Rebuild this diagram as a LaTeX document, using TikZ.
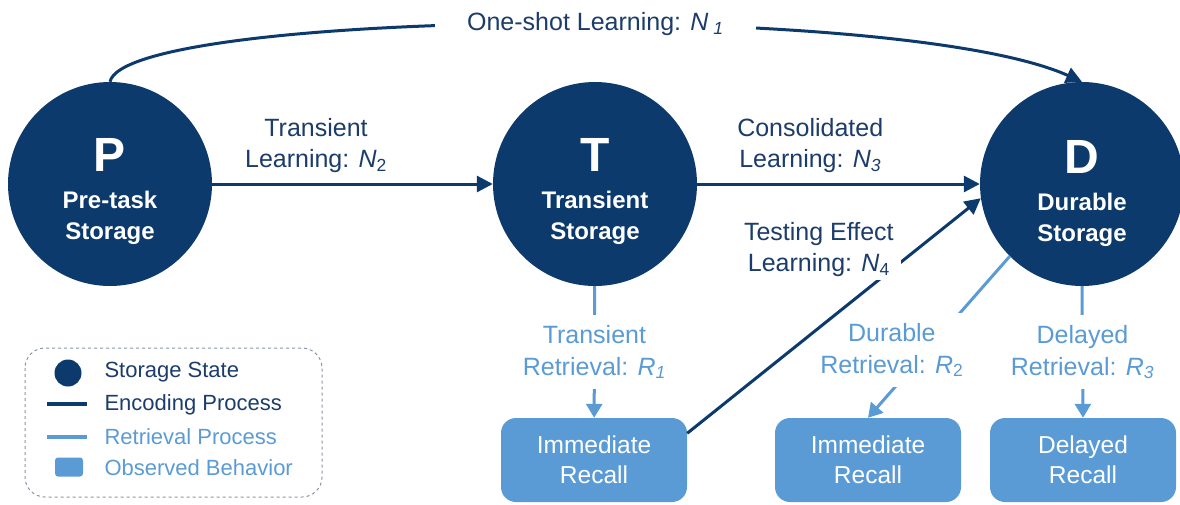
\documentclass[tikz,border=0pt]{standalone}
\usepackage{fontspec}
\setmainfont{Liberation Sans}
\usetikzlibrary{arrows.meta,positioning,calc}

\definecolor{navy}{HTML}{0C3A6C}
\definecolor{sky}{HTML}{5B9BD5}
\definecolor{inknavy}{HTML}{1C3C6B}
\definecolor{keyframe}{HTML}{8A94A6}

\newcommand{\varsub}[2]{\textit{#1}\textsubscript{#2}}

\tikzset{
  state/.style={circle, fill=navy, minimum size=204pt, inner sep=0pt},
  statename/.style={text=white, align=center, font=\fontsize{24}{31}\selectfont\bfseries},
  behavior/.style={rounded corners=15pt, fill=sky, text=white, minimum width=186pt,
    minimum height=84pt, align=center, font=\fontsize{24.5}{30}\selectfont},
  encode/.style={draw=navy, line width=3pt, -{Triangle[length=16pt,width=16pt]}},
  retrieve/.style={draw=sky, line width=3pt, -{Triangle[length=14pt,width=16pt]}},
  enclabel/.style={text=inknavy, align=center, font=\fontsize{25}{31}\selectfont},
  retlabel/.style={text=sky, align=center, fill=white, inner xsep=2pt, inner ysep=10pt,
    font=\fontsize{25}{32}\selectfont},
  keytext/.style={anchor=west, font=\fontsize{22}{26}\selectfont}
}

\begin{document}
\begin{tikzpicture}[x=1pt,y=-1pt]
\useasboundingbox (0,0) rectangle (1180,504);

% storage states
\node[state] (P) at (110,184) {};
\node[state] (T) at (595,184) {};
\node[state] (D) at (1082,184) {};
\node[statename] (Pname) at ([yshift=-8pt]P.center) {{\fontsize{48}{48}\selectfont P}\\[6pt]Pre-task\\Storage};
\node[statename] (Tname) at ([yshift=-8pt]T.center) {{\fontsize{48}{48}\selectfont T}\\[6pt]Transient\\Storage};
\node[statename] (Dname) at ([yshift=-10pt]D.center) {{\fontsize{48}{48}\selectfont D}\\[6pt]Durable\\Storage};

% observed behavior
\node[behavior] (recallT) at (594,460) {Immediate\\Recall};
\node[behavior] (recallD) at (868,460) {Immediate\\Recall};
\node[behavior] (recallL) at (1083,460) {Delayed\\Recall};

% retrieval
\draw[retrieve] (T) -- (recallT)
  node[pos=0.5, retlabel] (Rone) {Transient\\Retrieval: \varsub{R}{\textit{1}}};
\draw[retrieve] (D.225) -- (recallD.north)
  node[pos=0.5, retlabel, xshift=-47pt, yshift=-13pt] (Rtwo) {Durable\\Retrieval: \varsub{R}{2}};
\draw[retrieve] (D.south) -- (recallL.north)
  node[pos=0.5, retlabel] (Rthree) {Delayed\\Retrieval: \varsub{R}{\textit{3}}};

% encoding
\draw[encode] (P.north) .. controls (125,10) and (900,0) .. (D.north)
  node[pos=0.55, enclabel, fill=white, inner xsep=32pt, xshift=-4pt] (None) {One-shot Learning: \textit{N}\textsubscript{\ \textit{1}}};
\draw[encode] (P) -- (T)
  node[pos=0.37, enclabel, above=6pt] (Ntwo) {Transient\\Learning: \varsub{N}{2}};
\draw[encode] (T) -- (D)
  node[pos=0.4, enclabel, above=6pt] (Nthree) {Consolidated\\Learning: \varsub{N}{\textit{3}}};
\draw[encode] (recallT.16) -- (D.188)
  node[pos=0.79, enclabel, fill=white, inner xsep=7pt, left=17pt, yshift=-2pt] (Nfour) {Testing Effect\\Learning: \varsub{N}{4}};

% legend
\draw[keyframe, dashed, line width=1pt, rounded corners=20pt] (25,348) rectangle (322,497);
\node[circle, fill=navy, minimum size=27pt, inner sep=0pt] (keystate) at (68,373) {};
\node[keytext, text=inknavy] (keystatetext) at (101,372) {Storage State};
\coordinate (kencA) at (47,404);
\coordinate (kencB) at (87,404);
\draw[navy, line width=3.5pt] (kencA) -- (kencB);
\node[keytext, text=inknavy] (kenctext) at (101,405) {Encoding Process};
\coordinate (kretA) at (47,437);
\coordinate (kretB) at (87,437);
\draw[sky, line width=3.5pt] (kretA) -- (kretB);
\node[keytext, text=sky] (krettext) at (101,437) {Retrieval Process};
\node[fill=sky, rounded corners=3pt, minimum width=28pt, minimum height=19pt, inner sep=0pt] (kbox) at (69,467) {};
\node[keytext, text=sky] (kboxtext) at (101,468) {Observed Behavior};
\end{tikzpicture}
\end{document}
